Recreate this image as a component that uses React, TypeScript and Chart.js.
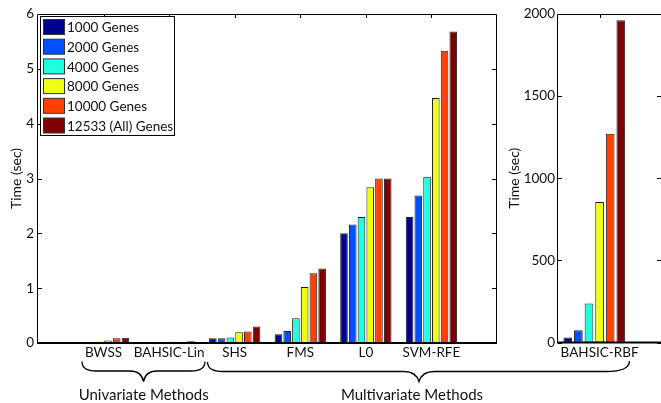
import React, { useEffect, useRef } from "react";
import { Chart, registerables } from "chart.js";
Chart.register(...registerables);

// ---------------- data ----------------
const categories = ["BWSS", "BAHSIC-Lin", "SHS", "FMS", "L0", "SVM-RFE"];
const rbfCategory = "BAHSIC-RBF";
const seriesNames = [
  "1000 Genes",
  "2000 Genes",
  "4000 Genes",
  "8000 Genes",
  "10000 Genes",
  "12533 (All) Genes",
];
const seriesColors = ["#00008F", "#0050FF", "#20FFDF", "#EFFF10", "#FF4000", "#800000"];
const genes1000 = [0.008, 0.004, 0.085, 0.16, 2.0, 2.3];
const genes2000 = [0.02, 0.004, 0.085, 0.22, 2.16, 2.69];
const genes4000 = [0.025, 0.006, 0.1, 0.45, 2.3, 3.03];
const genes8000 = [0.045, 0.025, 0.195, 1.02, 2.84, 4.47];
const genes10000 = [0.085, 0.006, 0.21, 1.27, 3.0, 5.33];
const genes12533 = [0.095, 0.03, 0.3, 1.36, 3.0, 5.68];
const rbfTimes = [30, 75, 238, 855, 1271, 1962];
const leftTicks = [0, 1, 2, 3, 4, 5, 6];
const rightTicks = [0, 500, 1000, 1500, 2000];
const yTitle = "Time (sec)";
const groupLabels = ["Univariate Methods", "Multivariate Methods"];

const leftSeries = [genes1000, genes2000, genes4000, genes8000, genes10000, genes12533];

const FONT = "Lato, 'Liberation Sans', Arial, sans-serif";
const INK = "#111";

// box + inward tick marks (MATLAB style)
function makeBoxPlugin(id: string) {
  return {
    id,
    afterDatasetsDraw(chart: any) {
      const { ctx, chartArea } = chart;
      const { left, right, top, bottom } = chartArea;
      const ys = chart.scales.y;
      const xs = chart.scales.x;
      ctx.save();
      ctx.strokeStyle = "#000";
      ctx.lineWidth = 1;
      ctx.beginPath();
      ctx.moveTo(left - 0.5, bottom);
      ctx.lineTo(left - 0.5, top + 0.5);
      ctx.lineTo(right - 0.5, top + 0.5);
      ctx.lineTo(right - 0.5, bottom);
      ctx.stroke();
      ys.ticks.forEach((t: any) => {
        const py = Math.round(ys.getPixelForValue(t.value)) + 0.5;
        ctx.beginPath();
        ctx.moveTo(left, py);
        ctx.lineTo(left + 4, py);
        ctx.moveTo(right - 1, py);
        ctx.lineTo(right - 5, py);
        ctx.stroke();
      });
      const labels = chart.data.labels as string[];
      labels.forEach((lab, i) => {
        if (!lab) return;
        const px = Math.round(xs.getPixelForValue(i)) + 0.5;
        ctx.beginPath();
        ctx.moveTo(px, top);
        ctx.lineTo(px, top + 4);
        ctx.stroke();
      });
      ctx.lineWidth = 2;
      ctx.beginPath();
      ctx.moveTo(left - 1, bottom);
      ctx.lineTo(right, bottom);
      ctx.stroke();
      ctx.restore();
    },
  };
}

const legendPlugin = {
  id: "boxLegend",
  afterDraw(chart: any) {
    const { ctx } = chart;
    ctx.save();
    const bx = 40.5, by = 16.5, bw = 134, bh = 119;
    ctx.fillStyle = "#fff";
    ctx.fillRect(bx, by, bw, bh);
    ctx.strokeStyle = "#000";
    ctx.lineWidth = 1;
    ctx.strokeRect(bx, by, bw, bh);
    ctx.font = `13.5px ${FONT}`;
    ctx.textBaseline = "middle";
    ctx.textAlign = "left";
    seriesNames.forEach((name, i) => {
      const y0 = 19.5 + i * 19.7;
      ctx.fillStyle = seriesColors[i];
      ctx.fillRect(43.5, y0, 21, 15);
      ctx.strokeStyle = "#333";
      ctx.strokeRect(43.5, y0, 21, 15);
      ctx.fillStyle = INK;
      ctx.fillText(name, 67, y0 + 8.5);
    });
    ctx.restore();
  },
};

function yScale(min: number, max: number, step: number, width: number, titlePad: number, tickPad: number) {
  return {
    type: "linear",
    min,
    max,
    afterFit: (s: any) => {
      s.width = width;
    },
    grid: { display: false, drawTicks: false },
    border: { display: false },
    ticks: {
      stepSize: step,
      padding: tickPad,
      color: INK,
      font: { family: FONT, size: 13.5 },
      callback: (v: any) => String(v),
    },
    title: {
      display: true,
      text: yTitle,
      color: INK,
      padding: { top: titlePad, bottom: 0 },
      font: { family: FONT, size: 14 },
    },
  };
}

function xScale(height: number) {
  return {
    type: "category",
    offset: false,
    afterFit: (s: any) => {
      s.height = height;
    },
    grid: { display: false, drawTicks: false },
    border: { display: false },
    ticks: {
      autoSkip: false,
      maxRotation: 0,
      minRotation: 0,
      padding: 2,
      color: INK,
      font: { family: FONT, size: 13.5 },
    },
  };
}

export default function App() {
  const leftRef = useRef<HTMLCanvasElement>(null);
  const rightRef = useRef<HTMLCanvasElement>(null);

  useEffect(() => {
    const leftLabels = ["", ...categories, ""];
    const left = new Chart(leftRef.current as HTMLCanvasElement, {
      type: "bar",
      data: {
        labels: leftLabels,
        datasets: leftSeries.map((vals, i) => ({
          label: seriesNames[i],
          data: [null, ...vals, null],
          backgroundColor: seriesColors[i],
          borderColor: "#222",
          borderWidth: 1,
          borderSkipped: false,
          categoryPercentage: 0.8,
          barPercentage: 0.87,
        })),
      },
      options: {
        responsive: false,
        animation: false,
        maintainAspectRatio: false,
        layout: { padding: { left: 0, top: 14, right: 8, bottom: 0 } },
        plugins: { legend: { display: false }, tooltip: { enabled: false } },
        scales: {
          x: xScale(22) as any,
          y: yScale(0, 6, 1, 38, 8.5, 4) as any,
        },
      },
      plugins: [makeBoxPlugin("boxL"), legendPlugin],
    } as any);

    const rightLabels = ["", "", rbfCategory, "", "", ""];
    const rightSets: any[] = rbfTimes.map((v, i) => ({
      label: seriesNames[i],
      data: rightLabels.map((l) => (l ? v : null)),
      backgroundColor: seriesColors[i],
      borderColor: "#222",
      borderWidth: 1,
      borderSkipped: false,
      categoryPercentage: 3.57,
      barPercentage: 0.82,
    }));
    rightSets.push({
      label: "",
      data: rightLabels.map(() => null),
      backgroundColor: "rgba(0,0,0,0)",
      borderWidth: 0,
      categoryPercentage: 3.57,
      barPercentage: 0.82,
    });
    const right = new Chart(rightRef.current as HTMLCanvasElement, {
      type: "bar",
      data: { labels: rightLabels, datasets: rightSets },
      options: {
        responsive: false,
        animation: false,
        maintainAspectRatio: false,
        layout: { padding: { left: 0, top: 14, right: 13, bottom: 0 } },
        plugins: { legend: { display: false }, tooltip: { enabled: false } },
        scales: {
          x: xScale(22.5) as any,
          y: yScale(0, 2000, 500, 58, 6.5, 3) as any,
        },
      },
      plugins: [makeBoxPlugin("boxR")],
    } as any);

    return () => {
      left.destroy();
      right.destroy();
    };
  }, []);

  return (
    <div
      style={{
        position: "fixed",
        left: 0,
        top: 0,
        width: 661,
        height: 403,
        overflow: "hidden",
        background: "#fff",
      }}
    >
      <canvas
        ref={leftRef}
        width={505}
        height={365}
        style={{ position: "absolute", left: 0, top: 0, width: 505, height: 365 }}
      />
      <canvas
        ref={rightRef}
        width={175}
        height={365}
        style={{ position: "absolute", left: 500, top: 0, width: 175, height: 365 }}
      />
      <svg
        width={661}
        height={403}
        style={{ position: "absolute", left: 0, top: 0, pointerEvents: "none" }}
      >
        <path
          d="M82,361.5 C82,368.5 87,371 96,371 L130,371 C138,371 142,374 143.5,381.5 C145,374 149,371 157,371 L191,371 C200,371 205,368.5 205,361.5"
          fill="none"
          stroke="#000"
          strokeWidth={1.3}
        />
        <path
          d="M207.5,362 C207.5,369 213,371.5 223,371.5 L404,371.5 C412,371.5 417,375 419,381.5 C421,375 426,371.5 434,371.5 L606,371.5 C622,371.5 629.5,368 629.5,361"
          fill="none"
          stroke="#000"
          strokeWidth={1.3}
        />
        <text x={143.7} y={400} textAnchor="middle" fontFamily={FONT} fontSize={15} fill={INK}>
          {groupLabels[0]}
        </text>
        <text x={412} y={400} textAnchor="middle" fontFamily={FONT} fontSize={15} fill={INK}>
          {groupLabels[1]}
        </text>
      </svg>
    </div>
  );
}
